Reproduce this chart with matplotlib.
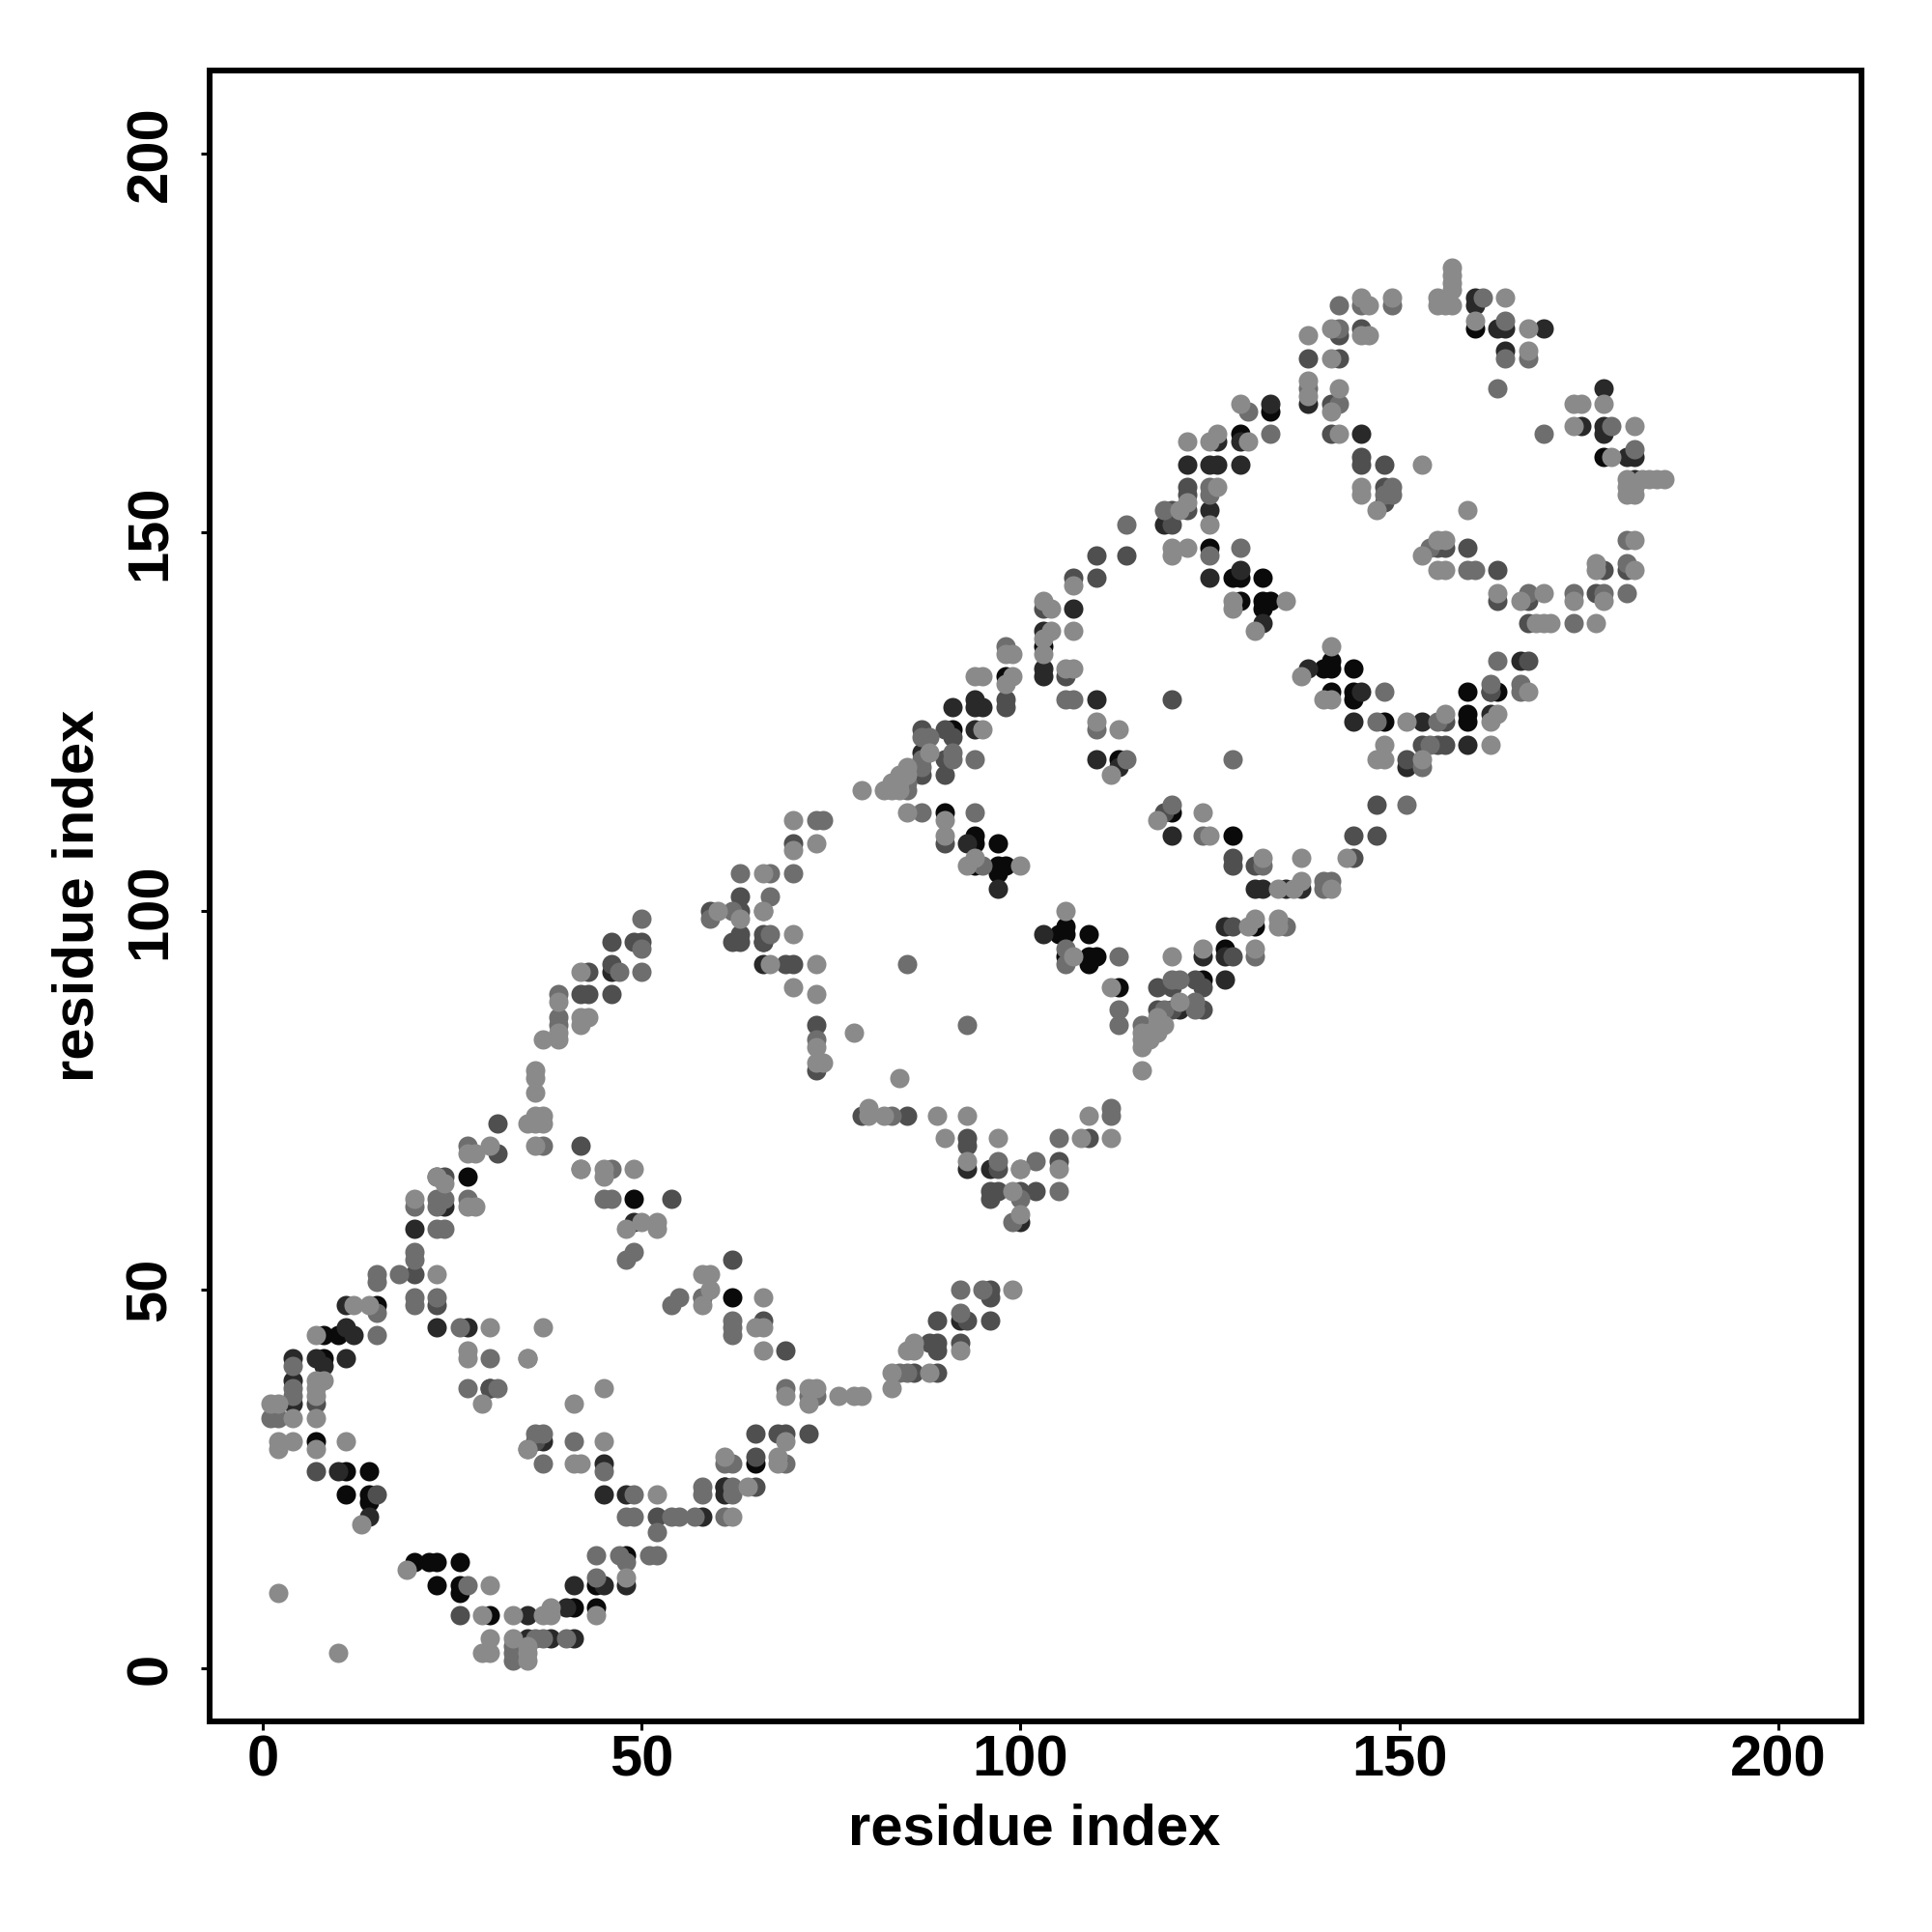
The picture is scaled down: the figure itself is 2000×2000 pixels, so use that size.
import numpy as np
import matplotlib
matplotlib.use('Agg')
import matplotlib.pyplot as plt

# residue contacts (x, y) grouped by how dark the dot is
contacts_black = [
    (30, 7), (41, 8), (44, 8), (23, 11), (26, 11), (26, 10), (44, 11), (20, 14), (22, 14), (23, 14), (26, 14),
    (48, 15), (14, 22), (11, 23), (14, 23), (11, 26), (14, 26), (7, 30), (8, 41), (8, 44), (10, 44), (15, 48),
    (27, 65), (49, 62), (62, 49), (65, 27), (90, 113), (94, 110), (94, 109), (97, 109), (94, 106), (97, 106),
    (98, 106), (97, 105), (105, 97), (106, 98), (106, 97), (109, 97), (106, 94), (109, 94), (110, 94), (109, 93),
    (113, 90), (125, 148), (128, 144), (129, 144), (132, 144), (129, 141), (132, 141), (133, 141), (132, 140),
    (103, 135), (98, 131), (91, 124), (120, 113), (113, 120), (128, 110), (131, 98), (127, 95), (124, 91),
    (140, 132), (141, 133), (141, 132), (144, 132), (141, 129), (144, 129), (144, 128), (148, 125), (159, 129),
    (163, 129), (159, 126), (159, 125), (160, 177), (133, 166), (177, 160), (129, 163),
]
contacts_dark = [
    (35, 4), (38, 4), (41, 4), (35, 7), (40, 8), (41, 11), (45, 11), (48, 11), (58, 20), (14, 20), (45, 23),
    (48, 23), (61, 23), (61, 24), (10, 26), (45, 27), (37, 30), (4, 35), (30, 37), (4, 38), (4, 41), (7, 41),
    (8, 40), (11, 41), (11, 45), (12, 44), (23, 45), (27, 45), (11, 48), (20, 58), (24, 61), (49, 59), (61, 24),
    (46, 92), (93, 109), (103, 97), (97, 103), (125, 144), (129, 145), (107, 140), (103, 137), (103, 132),
    (103, 131), (122, 159), (125, 159), (126, 159), (129, 159), (129, 162), (126, 162), (133, 167), (125, 153),
    (119, 151), (94, 128), (94, 127), (95, 127), (91, 127), (94, 124), (87, 121), (110, 128), (113, 119),
    (110, 120), (120, 110), (132, 138), (131, 103), (132, 103), (135, 103), (137, 103), (127, 98), (127, 94),
    (127, 91), (124, 94), (92, 46), (93, 66), (96, 66), (66, 96), (66, 93), (100, 59), (121, 87), (138, 132),
    (145, 129), (144, 125), (153, 125), (151, 119), (159, 122), (162, 126), (166, 133), (160, 181), (160, 180),
    (163, 177), (164, 177), (164, 174), (138, 167), (145, 163), (177, 169), (177, 164), (177, 163), (174, 164),
    (169, 177), (181, 157), (180, 160), (181, 160), (162, 129),
]
contacts_mid = [
    (26, 7), (7, 26), (15, 23), (7, 35), (36, 30), (30, 37), (52, 20), (20, 52), (23, 48), (54, 62), (31, 72),
    (24, 65), (31, 68), (23, 65), (42, 69), (43, 89), (42, 89), (46, 89), (46, 93), (46, 96), (49, 96), (50, 96),
    (43, 92), (62, 54), (58, 49), (66, 46), (69, 42), (65, 31), (68, 31), (69, 31), (72, 31), (65, 28), (65, 24),
    (89, 46), (93, 46), (96, 46), (96, 50), (96, 49), (86, 39), (89, 39), (88, 43), (89, 43), (89, 42), (92, 43),
    (79, 73), (85, 73), (70, 109), (63, 102), (59, 100), (63, 100), (63, 97), (62, 96), (63, 96), (66, 97),
    (66, 96), (69, 93), (70, 93), (73, 85), (73, 79), (90, 109), (97, 66), (93, 70), (93, 69), (109, 70), (105, 67),
    (96, 63), (97, 63), (96, 62), (100, 63), (102, 63), (118, 87), (118, 90), (123, 91), (120, 90), (120, 87),
    (124, 87), (124, 90), (128, 94), (128, 98), (128, 107), (128, 106), (131, 106), (144, 107), (144, 110),
    (147, 110), (147, 114), (151, 120), (153, 122), (155, 122), (156, 122), (156, 125), (167, 133), (162, 129),
    (110, 147), (114, 147), (107, 144), (110, 144), (103, 140), (106, 131), (122, 156), (122, 155), (122, 153),
    (120, 153), (120, 151), (98, 128), (98, 127), (120, 128), (119, 113), (142, 176), (145, 177), (138, 173),
    (142, 173), (141, 167), (141, 163), (145, 160), (145, 159), (148, 159), (148, 156), (148, 154), (155, 148),
    (156, 148), (159, 148), (163, 145), (163, 141), (167, 141), (167, 138), (176, 142), (177, 145), (180, 145),
    (90, 124), (91, 123), (87, 124), (87, 118), (90, 120), (90, 118),
]
contacts_soft = [
    (33, 1), (33, 2), (33, 3), (36, 4), (37, 4), (40, 4), (44, 12), (44, 15), (47, 15), (51, 15), (52, 15), (48, 14),
    (48, 20), (49, 20), (54, 20), (55, 20), (57, 20), (61, 20), (52, 18), (49, 23), (58, 23), (58, 24), (62, 23),
    (62, 24), (62, 27), (61, 27), (69, 27), (27, 11), (45, 26), (37, 27), (41, 30), (36, 31), (37, 31), (35, 29),
    (1, 33), (2, 33), (4, 36), (4, 37), (4, 40), (27, 37), (31, 37), (30, 41), (15, 44), (26, 45), (15, 47), (15, 51),
    (15, 52), (18, 52), (20, 54), (20, 55), (20, 48), (20, 49), (23, 49), (23, 58), (24, 58), (35, 41), (62, 45),
    (62, 46), (69, 37), (72, 36), (73, 36), (85, 39), (84, 39), (92, 47), (92, 50), (95, 50), (27, 69), (27, 62),
    (23, 62), (24, 62), (23, 61), (20, 61), (39, 85), (39, 86), (39, 89), (37, 69), (42, 66), (46, 66), (45, 62),
    (46, 62), (47, 92), (50, 92), (50, 95), (50, 99), (48, 54), (49, 55), (54, 48), (55, 49), (58, 49), (62, 44),
    (87, 113), (94, 113), (95, 106), (100, 66), (102, 67), (105, 63), (105, 70), (112, 74), (112, 73),
    (100, 62), (99, 59), (97, 67), (83, 73), (85, 93), (93, 85), (113, 94), (113, 87), (113, 85), (116, 85), (119, 87),
    (120, 91), (121, 91), (123, 88), (123, 87), (131, 94), (73, 83), (73, 112), (74, 112), (63, 105), (67, 105),
    (70, 105), (67, 102), (59, 99), (62, 100), (66, 100), (67, 97), (98, 135), (129, 148), (125, 147), (125, 155),
    (125, 156), (130, 166), (119, 153), (114, 151), (133, 163), (106, 128), (107, 128), (110, 124), (114, 120),
    (128, 120), (120, 114), (124, 110), (132, 106), (141, 104), (140, 104), (140, 103), (135, 98), (106, 95),
    (106, 93), (148, 129), (147, 125), (155, 125), (154, 122), (153, 119), (151, 114), (163, 133),
    (162, 130), (166, 130), (166, 129), (161, 181), (164, 178), (142, 180), (145, 180), (149, 180), (142, 177),
    (138, 169), (142, 167), (148, 155), (149, 156), (149, 155), (154, 148), (159, 145), (160, 145), (167, 142),
    (173, 138), (173, 142), (177, 142), (180, 142), (180, 146), (180, 149), (178, 164), (181, 161), (169, 163),
    (163, 169), (164, 173), (167, 173), (87, 123), (88, 123), (87, 120), (87, 119), (91, 121), (91, 120), (94, 120),
    (85, 117), (85, 116),
]
contacts_light = [
    (10, 2), (2, 10), (29, 2), (30, 2), (35, 1), (35, 2), (35, 3), (30, 4), (33, 4), (29, 7), (33, 7), (37, 7), (38, 7),
    (38, 8), (44, 7), (30, 11), (48, 12), (19, 13), (52, 23), (13, 19), (62, 20), (2, 29), (7, 29), (2, 30), (4, 30),
    (11, 30), (35, 29), (45, 30), (41, 27), (42, 27), (45, 37), (1, 35), (2, 35), (4, 33), (7, 33), (41, 35), (29, 35),
    (7, 36), (7, 37), (7, 38), (8, 38), (30, 45), (37, 45), (27, 41), (27, 42), (35, 41), (7, 44), (12, 48), (14, 48),
    (23, 52), (20, 62), (24, 64), (23, 65), (28, 61), (27, 61), (27, 68), (28, 68), (30, 69), (36, 76), (36, 78),
    (36, 79), (35, 72), (36, 73), (36, 72), (37, 73), (37, 72), (36, 69), (37, 83), (39, 83), (39, 84), (39, 88),
    (42, 85), (42, 86), (43, 86), (42, 92), (45, 65), (45, 66), (49, 66), (48, 58), (50, 59), (52, 59), (52, 58),
    (42, 66), (58, 52), (59, 52), (59, 50), (58, 48), (66, 49), (65, 45), (66, 45), (66, 42), (69, 36), (72, 37),
    (73, 37), (72, 35), (76, 36), (78, 36), (79, 36), (83, 39), (83, 37), (85, 42), (86, 43), (86, 42), (88, 39),
    (92, 42), (99, 50), (69, 30), (61, 28), (68, 28), (68, 27), (64, 24), (79, 116), (82, 116), (83, 117), (84, 116),
    (84, 117), (83, 116), (84, 118), (85, 118), (85, 119), (85, 113), (88, 121), (95, 124), (90, 112), (90, 110),
    (93, 106), (94, 107), (100, 106), (106, 100), (107, 94), (112, 90),
    (70, 112), (70, 108), (73, 109), (66, 105), (60, 100), (63, 99), (66, 100), (70, 97), (67, 93), (73, 93), (70, 90),
    (73, 89), (73, 82), (73, 80), (74, 80), (78, 84), (84, 78), (116, 84), (116, 83), (116, 82), (117, 84), (117, 83),
    (118, 86), (118, 85), (118, 84), (119, 85), (116, 79), (80, 74), (80, 73), (82, 73), (89, 73), (93, 73), (90, 70),
    (97, 70), (108, 70), (112, 70), (109, 73), (93, 67), (105, 66), (100, 66), (99, 63), (100, 60), (120, 94), (121, 88),
    (124, 95), (131, 95), (134, 99), (131, 99), (134, 98), (130, 98), (134, 103), (136, 103), (137, 104), (141, 103),
    (137, 107), (143, 107), (132, 107), (112, 118), (110, 125), (113, 124), (118, 112), (124, 113), (125, 110),
    (94, 131), (95, 131), (99, 131), (98, 130), (98, 134), (99, 134), (103, 134), (103, 136), (103, 141), (104, 140),
    (104, 137), (107, 137), (106, 132), (107, 132), (107, 143), (120, 148), (120, 147), (122, 148), (122, 162),
    (125, 162), (126, 163), (129, 167), (130, 162), (121, 153), (122, 154), (126, 156), (125, 151), (128, 141), (128, 140),
    (135, 141), (131, 137), (137, 131), (141, 135), (140, 128), (141, 128), (148, 122), (147, 120), (148, 120), (151, 125),
    (156, 126), (153, 120), (162, 125), (163, 126), (162, 122), (167, 129), (155, 181), (155, 180), (156, 180), (157, 185),
    (157, 184), (157, 183), (157, 182), (157, 180), (164, 181), (160, 178), (167, 177), (167, 174), (145, 181), (146, 180),
    (149, 181), (141, 177), (145, 176), (146, 176), (138, 176), (141, 173), (138, 170), (138, 168), (142, 169), (141, 166),
    (142, 163), (153, 159), (145, 156), (145, 155), (147, 153), (159, 153), (155, 149), (156, 149), (153, 147), (155, 145),
    (156, 145), (163, 142), (166, 141), (169, 142), (168, 138), (169, 138), (170, 138), (176, 138), (173, 141), (177, 141),
    (176, 146), (176, 145), (181, 145), (181, 149), (180, 157), (182, 157), (183, 157), (184, 157), (185, 157), (180, 156),
    (181, 156), (180, 155), (181, 155), (178, 160), (181, 164), (173, 164), (173, 167), (174, 167), (177, 167),
]

groups = [contacts_black, contacts_dark, contacts_mid, contacts_soft, contacts_light]
group_greys = [0.04, 0.16, 0.31, 0.43, 0.54]
tick_values = [0, 50, 100, 150, 200]
axis_label = 'residue index'

plt.rcParams['font.family'] = ['Liberation Sans', 'DejaVu Sans']
plt.rcParams['font.weight'] = 'bold'

fig = plt.figure(figsize=(10, 10), dpi=200)
ax = fig.add_axes([217 / 2000, 1 - 1782 / 2000, (1927 - 217) / 2000, (1782 - 73) / 2000])

# darkest first, lighter dots mostly sit over the dark ones in the original
for pairs, grey in zip(groups, group_greys):
    pts = np.array(pairs)
    ax.scatter(pts[:, 0], pts[:, 1], s=52, color=str(grey), linewidths=0, zorder=3)

ax.set_xlim(-7, 211)
ax.set_ylim(-7, 211)
ax.set_xticks(tick_values)
ax.set_yticks(tick_values)
ax.tick_params(axis='both', length=3.2, width=1.1, labelsize=21.5)
ax.tick_params(axis='x', pad=1.5)
ax.tick_params(axis='y', pad=13)
for label in ax.get_yticklabels():
    label.set(rotation=90, ha='center', va='baseline', rotation_mode='anchor')
for spine in ax.spines.values():
    spine.set_linewidth(2.15)

fig.text(1071 / 2000, 1 - 1894 / 2000, axis_label, fontsize=21.5, fontweight='bold', ha='center', va='center')
fig.text(81 / 2000, 1 - 927 / 2000, axis_label, fontsize=21.5, fontweight='bold', ha='center', va='center', rotation=90)

fig.savefig('out.png', dpi=200)
